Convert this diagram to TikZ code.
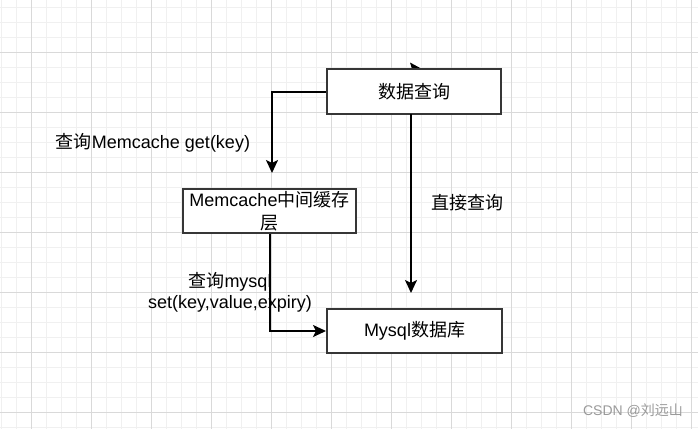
\documentclass[tikz,border=0pt]{standalone}
\usepackage{fontspec}
\setmainfont{Liberation Sans}
\newfontfamily\cjk{Noto Sans CJK SC}
\usetikzlibrary{arrows.meta}
\definecolor{minorgrid}{HTML}{F0F0F0}
\definecolor{majorgrid}{HTML}{D9D9D9}
\definecolor{boxline}{HTML}{363636}
\definecolor{wm}{HTML}{9A9A9A}
\tikzset{
  boxnode/.style={draw=boxline, line width=2pt, fill=white, inner sep=0pt,
    font=\fontsize{18}{23}\selectfont, align=center},
  conn/.style={line width=2pt, -{Stealth[length=13pt,width=12pt,inset=3pt]}},
  lbl/.style={font=\fontsize{18}{21.5}\selectfont, align=center, inner sep=0pt},
}
\begin{document}
\begin{tikzpicture}[x=1pt,y=-1pt]
\useasboundingbox (0,0) rectangle (698,429);
\fill[white] (0,0) rectangle (698,429);
% grid
\foreach \i in {0,...,46} { \draw[minorgrid, line width=1pt] (1+15*\i,0) -- (1+15*\i,429); }
\foreach \i in {0,...,28} { \draw[minorgrid, line width=1pt] (0,7+15*\i) -- (698,7+15*\i); }
\foreach \i in {0,...,11} { \draw[majorgrid, line width=1pt] (31+60*\i,0) -- (31+60*\i,429); }
\foreach \i in {0,...,6} { \draw[majorgrid, line width=1pt] (0,52+60*\i) -- (698,52+60*\i); }

% small arrowhead peeking above top box
\fill (410,62.5) -- (422,69) -- (412,69) -- cycle;

% boxes
\node[boxnode, minimum width=174pt, minimum height=45pt] (d) at (414,91.5) {{\cjk 数据查询}};
\node[boxnode, minimum width=173pt, minimum height=44pt] (m) at (269.5,211) {Memcache{\cjk 中间缓存}\\{\cjk 层}};
\node[boxnode, minimum width=175pt, minimum height=44pt] (s) at (414.5,331) {Mysql{\cjk 数据库}};

% connector helpers
\coordinate (c1end) at (272,173);
\coordinate (c3start) at (411,114);
\coordinate (c3end) at (411,293);

\draw[conn] (d.west) -| (c1end);
\draw[conn] (m.south) |- (s.west);
\draw[conn] (c3start) -- (c3end);

% labels
\node[lbl] (l1) at (153,143) {{\cjk 查询}Memcache get(key)};
\node[lbl] (l2) at (230,292.5) {{\cjk 查询}mysql\\set(key,value,expiry)};
\node[lbl] (l3) at (467.5,203) {{\cjk 直接查询}};

% watermark
\node[font=\fontsize{14}{16}\selectfont, text=wm, inner sep=0pt] (w) at (633,411) {CSDN @{\cjk 刘远山}};
\end{tikzpicture}
\end{document}
